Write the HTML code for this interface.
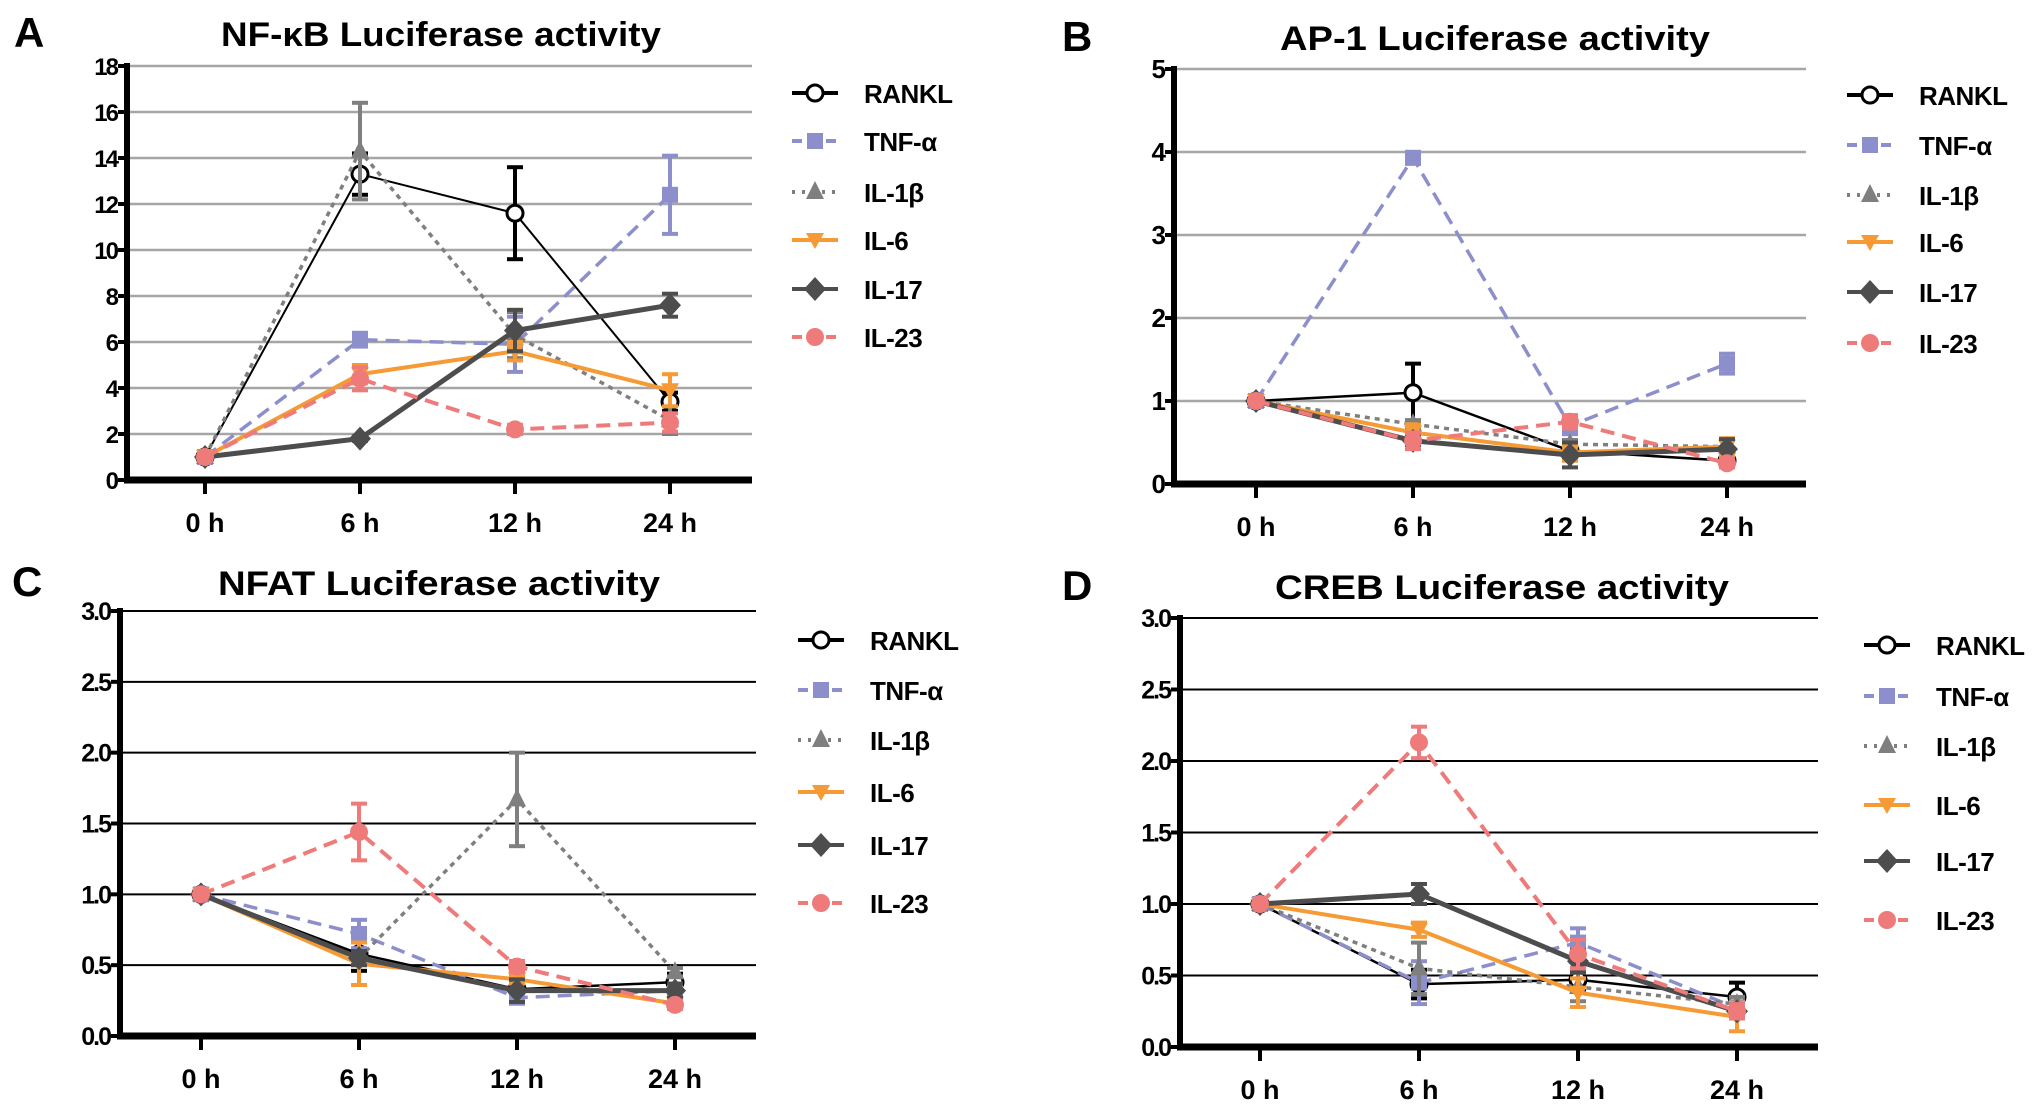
<!DOCTYPE html>
<html><head><meta charset="utf-8"><style>
html,body{margin:0;padding:0;background:#fff;}
svg{display:block;font-family:"Liberation Sans",sans-serif;font-weight:bold;}
</style></head><body>
<svg id="fig" width="2043" height="1111" viewBox="0 0 2043 1111" xmlns="http://www.w3.org/2000/svg"></svg>
<script>
const categories = ["0 h","6 h","12 h","24 h"];
const seriesNames = ["RANKL","TNF-α","IL-1β","IL-6","IL-17","IL-23"];
// Panel A NF-kB
const aRANKL=[1,13.3,11.6,3.4], aRANKLe=[0,0.9,2.0,0.4];
const aTNF=[1,6.1,5.9,12.4], aTNFe=[0,0.3,1.2,1.7];
const aIL1=[1,14.3,6.3,2.6], aIL1e=[0,2.1,1.0,0.6];
const aIL6=[1,4.6,5.6,3.9], aIL6e=[0,0.4,0.4,0.7];
const aIL17=[1,1.8,6.5,7.6], aIL17e=[0,0.1,0.9,0.5];
const aIL23=[1,4.4,2.2,2.5], aIL23e=[0,0.5,0.2,0.4];
const aTicks=[0,2,4,6,8,10,12,14,16,18];
// Panel B AP-1
const bRANKL=[1,1.1,0.4,0.28], bRANKLe=[0,0.35,0.1,0.05];
const bTNF=[1,3.93,0.7,1.45], bTNFe=[0,0.07,0.1,0.12];
const bIL1=[1,0.72,0.48,0.45], bIL1e=[0,0.05,0.05,0.1];
const bIL6=[1,0.62,0.38,0.45], bIL6e=[0,0.1,0.1,0.1];
const bIL17=[1,0.52,0.35,0.42], bIL17e=[0,0.05,0.15,0.12];
const bIL23=[1,0.52,0.75,0.25], bIL23e=[0,0.1,0.08,0.05];
const bTicks=[0,1,2,3,4,5];
// Panel C NFAT
const cRANKL=[1,0.58,0.33,0.38], cRANKLe=[0,0.12,0.05,0.06];
const cTNF=[1,0.72,0.27,0.32], cTNFe=[0,0.1,0.03,0.05];
const cIL1=[1,0.55,1.67,0.45], cIL1e=[0,0.05,0.33,0.03];
const cIL6=[1,0.51,0.40,0.23], cIL6e=[0,0.15,0.03,0.03];
const cIL17=[1,0.55,0.32,0.32], cIL17e=[0,0.05,0.08,0.05];
const cIL23=[1,1.44,0.49,0.22], cIL23e=[0,0.2,0.04,0.03];
const cTicks=["0.0","0.5","1.0","1.5","2.0","2.5","3.0"];
// Panel D CREB
const dRANKL=[1,0.44,0.47,0.35], dRANKLe=[0,0.1,0.08,0.1];
const dTNF=[1,0.45,0.73,0.27], dTNFe=[0,0.15,0.1,0.05];
const dIL1=[1,0.55,0.42,0.30], dIL1e=[0,0.18,0.1,0.05];
const dIL6=[1,0.82,0.38,0.21], dIL6e=[0,0.05,0.1,0.1];
const dIL17=[1,1.07,0.6,0.25], dIL17e=[0,0.07,0.08,0.05];
const dIL23=[1,2.13,0.65,0.25], dIL23e=[0,0.11,0.1,0.05];
const dTicks=["0.0","0.5","1.0","1.5","2.0","2.5","3.0"];

const NS="http://www.w3.org/2000/svg";
const svg=document.getElementById('fig');
function mk(tag,attrs,parent){const e=document.createElementNS(NS,tag);for(const k in attrs)e.setAttribute(k,attrs[k]);(parent||svg).appendChild(e);return e;}

const styles=[
 {c:"#000",w:2.5,dash:"",m:"opencircle"},
 {c:"#8c8fcb",w:3.5,dash:"14,8",m:"square"},
 {c:"#7f7f7f",w:3.5,dash:"5,5",m:"tri"},
 {c:"#f59a34",w:4,dash:"",m:"tridown"},
 {c:"#4d4d4d",w:5,dash:"",m:"diamond"},
 {c:"#ef7a7a",w:4,dash:"14,8",m:"circle"}
];
function marker(g,type,x,y,c){
 const s=8;
 if(type==="opencircle")return mk('circle',{cx:x,cy:y,r:8,fill:"#fff",stroke:c,"stroke-width":3},g);
 if(type==="circle")return mk('circle',{cx:x,cy:y,r:9,fill:c},g);
 if(type==="square")return mk('rect',{x:x-s,y:y-s,width:2*s,height:2*s,fill:c},g);
 if(type==="tri")return mk('polygon',{points:`${x},${y-11} ${x-9},${y+7} ${x+9},${y+7}`,fill:c},g);
 if(type==="tridown")return mk('polygon',{points:`${x},${y+9} ${x-9},${y-7} ${x+9},${y-7}`,fill:c},g);
 if(type==="diamond")return mk('polygon',{points:`${x},${y-12} ${x+11},${y} ${x},${y+12} ${x-11},${y}`,fill:c},g);
}

function panel(p){
 const g=mk('g',{});
 
 
 const yScale=v=>p.y0-(v-p.min)/(p.max-p.min)*(p.y0-p.yTop);
 const xScale=i=>p.xs[0]+i*(p.xs[1]-p.xs[0]);
 const L=mk('text',{x:p.letterX,y:p.titleY+14,"font-size":42,fill:"#000"},g);L.textContent=p.letter;
 
 
 const T=mk('text',{x:p.titleX,y:p.titleY+13,"font-size":34,"text-anchor":"middle",fill:"#000",textLength:p.titleW,lengthAdjust:"spacingAndGlyphs"},g);T.textContent=p.title;
 
 
 p.ticks.forEach(t=>{
  const v=parseFloat(t),y=yScale(v);
  if(v>0){const gl=mk('line',{x1:p.ax,x2:p.right,y1:y,y2:y,stroke:p.grid,"stroke-width":p.gridW},g);
   
   }
  mk('line',{x1:p.ax-9,x2:p.ax,y1:y,y2:y,stroke:"#000","stroke-width":4},g);
  const tl=mk('text',{x:p.ax-10,y:y+9,"font-size":p.tickFs,"text-anchor":"end",fill:"#000","letter-spacing":"-2"},g);tl.textContent=t;
  
  
 });
 categories.forEach((c,i)=>{
  const x=xScale(i);
  mk('line',{x1:x,x2:x,y1:p.y0,y2:p.y0+14,stroke:"#000","stroke-width":4},g);
  const xl=mk('text',{x:x,y:p.y0+52,"font-size":27,"text-anchor":"middle",fill:"#000"},g);xl.textContent=c;
  
  
 });
 const ya=mk('line',{x1:p.ax,x2:p.ax,y1:p.yTop-3,y2:p.y0+3,stroke:"#000","stroke-width":6},g);
 
 
 const xa=mk('line',{x1:p.ax-3,x2:p.right,y1:p.y0,y2:p.y0,stroke:"#000","stroke-width":7},g);
 
 
 p.data.forEach((d,si)=>{
  const st=styles[si];
  const sg=mk('g',{},g);
  
  
  const vals=d[0],errs=d[1];
  const w=(si===0&&p.thinRankl)?2:st.w;
  mk('polyline',{points:vals.map((v,i)=>xScale(i)+","+yScale(v)).join(" "),fill:"none",stroke:st.c,"stroke-width":w,"stroke-dasharray":st.dash},sg);
  vals.forEach((v,i)=>{
   const x=xScale(i),e=errs[i];
   if(e>0){
    const y1=yScale(v+e),y2=yScale(v-e);
    mk('line',{x1:x,x2:x,y1:y1,y2:y2,stroke:st.c,"stroke-width":4},sg);
    mk('line',{x1:x-8,x2:x+8,y1:y1,y2:y1,stroke:st.c,"stroke-width":4},sg);
    mk('line',{x1:x-8,x2:x+8,y1:y2,y2:y2,stroke:st.c,"stroke-width":4},sg);
   }
   const m=marker(sg,st.m,x,yScale(v),st.c);
   
   
  });
 });
 seriesNames.forEach((n,i)=>{
  const st=styles[i],y=p.legY[i];
  const lg=mk('g',{},g);
  
  
  mk('line',{x1:p.legX,x2:p.legX+46,y1:y,y2:y,stroke:st.c,"stroke-width":4,"stroke-dasharray":st.dash?(st.m==="tri"?"3,7":"10,7"):""},lg);
  marker(lg,st.m,p.legX+23,y,st.c);
  const t=mk('text',{x:p.legX+72,y:y+10,"font-size":26,fill:"#000","letter-spacing":"-0.5"},lg);t.textContent=n;
 });
}

panel({name:"panel-a-nfkb",letter:"A",letterX:14,title:"NF-κB Luciferase activity",titleX:441,titleY:33,titleW:440,
 ax:127,right:752,yTop:66,y0:480,min:0,max:18,xs:[205,360],ticks:aTicks.map(String),grid:"#a6a6a6",gridW:2.5,tickFs:24,thinRankl:true,
 data:[[aRANKL,aRANKLe],[aTNF,aTNFe],[aIL1,aIL1e],[aIL6,aIL6e],[aIL17,aIL17e],[aIL23,aIL23e]],
 legX:792,legY:[93,141,192,240,289,337]});
panel({name:"panel-b-ap1",letter:"B",letterX:1062,title:"AP-1 Luciferase activity",titleX:1495,titleY:37,titleW:430,
 ax:1174,right:1806,yTop:69,y0:484,min:0,max:5,xs:[1256,1413],ticks:bTicks.map(String),grid:"#a6a6a6",gridW:2.5,tickFs:26,
 data:[[bRANKL,bRANKLe],[bTNF,bTNFe],[bIL1,bIL1e],[bIL6,bIL6e],[bIL17,bIL17e],[bIL23,bIL23e]],
 legX:1847,legY:[95,145,195,242,292,343]});
panel({name:"panel-c-nfat",letter:"C",letterX:12,title:"NFAT Luciferase activity",titleX:439,titleY:582,titleW:442,
 ax:120,right:756,yTop:611,y0:1036,min:0,max:3,xs:[201,359],ticks:cTicks,grid:"#000",gridW:2,tickFs:25,
 data:[[cRANKL,cRANKLe],[cTNF,cTNFe],[cIL1,cIL1e],[cIL6,cIL6e],[cIL17,cIL17e],[cIL23,cIL23e]],
 legX:798,legY:[640,690,740,792,845,903]});
panel({name:"panel-d-creb",letter:"D",letterX:1062,title:"CREB Luciferase activity",titleX:1502,titleY:586,titleW:454,
 ax:1180,right:1818,yTop:618,y0:1047,min:0,max:3,xs:[1260,1419],ticks:dTicks,grid:"#000",gridW:2,tickFs:25,
 data:[[dRANKL,dRANKLe],[dTNF,dTNFe],[dIL1,dIL1e],[dIL6,dIL6e],[dIL17,dIL17e],[dIL23,dIL23e]],
 legX:1864,legY:[645,696,746,805,861,920]});
</script>
</body></html>
